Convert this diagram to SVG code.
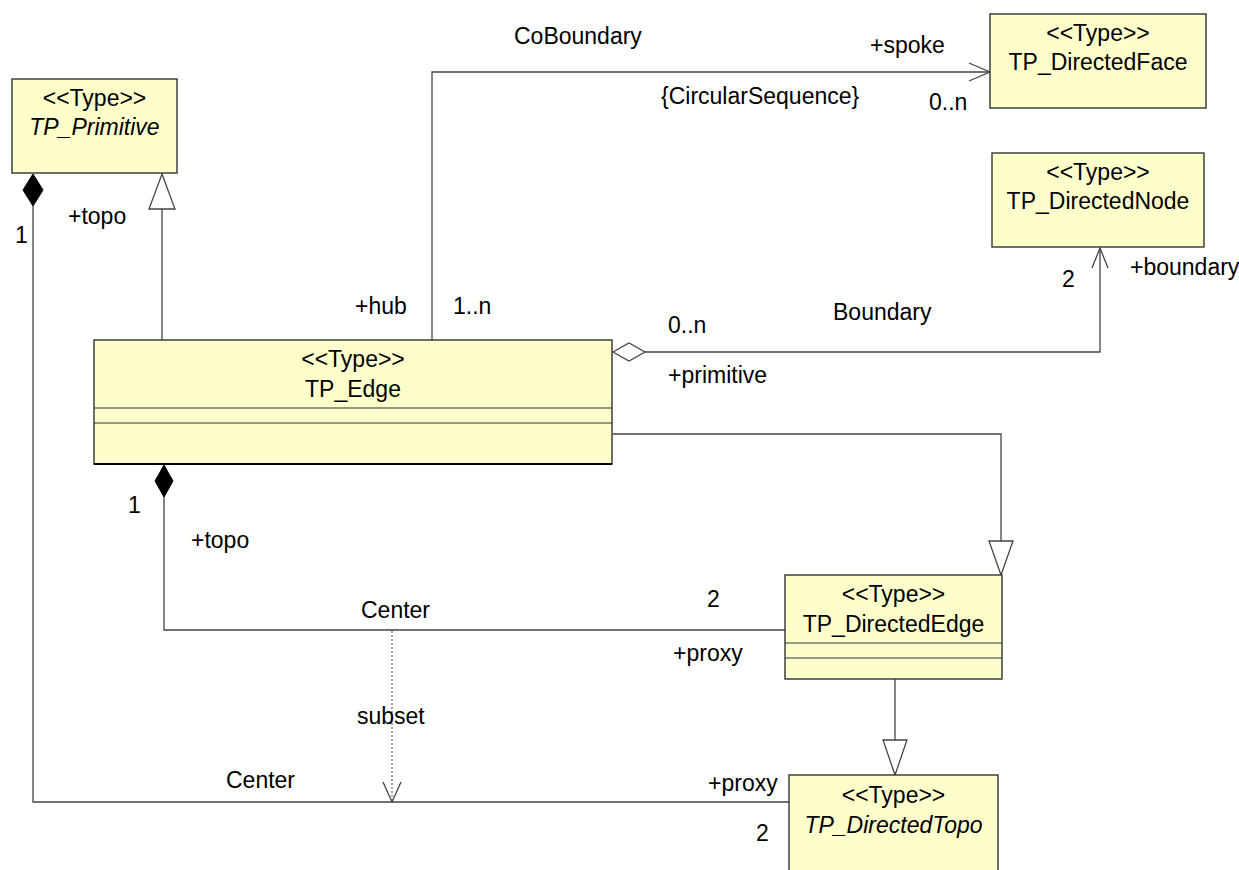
<svg xmlns="http://www.w3.org/2000/svg" width="1239" height="870" viewBox="0 0 1239 870">
<style>
.box{fill:#FFFFCC;stroke:#333;stroke-width:1.4}
.sep{stroke:#333;stroke-width:1.2}
.t{font-family:"Liberation Sans",Arial,sans-serif;font-size:23px;fill:#000}
.c{text-anchor:middle}
.i{font-style:italic}
.ln{fill:none;stroke:#444;stroke-width:1.3}
.dash{fill:none;stroke:#555;stroke-width:1.1;stroke-dasharray:2 2}
.tri{fill:#fff;stroke:#444;stroke-width:1.3}
.dia{fill:#000;stroke:#000;stroke-width:1}
.odia{fill:#fff;stroke:#444;stroke-width:1.3}
.arr{fill:none;stroke:#444;stroke-width:1.3}
</style>
<rect width="1239" height="870" fill="#fff"/>
<g id="connectors">
  <path class="ln" d="M33 206 V802 H789"/>
  <polygon class="dia" points="33,174 43,190 33,206 23,190"/>
  <path class="ln" d="M164 497 V630 H785"/>
  <polygon class="dia" points="164,465 173,481 164,497 155,481"/>
  <path class="dash" d="M392 631 V801"/>
  <polyline class="arr" points="383,782 392,802 401,782"/>
  <path class="ln" d="M162 340 V209"/>
  <polygon class="tri" points="162,174 175,209 149,209"/>
  <path class="ln" d="M613 434 H1001 V541"/>
  <polygon class="tri" points="1001,575 1013,541 989,541"/>
  <path class="ln" d="M895 679 V740"/>
  <polygon class="tri" points="895,775 907,740 883,740"/>
  <path class="ln" d="M432 340 V72 H989"/>
  <polyline class="arr" points="969,63 990,72 969,81"/>
  <path class="ln" d="M645 352 H1100 V248"/>
  <polygon class="odia" points="613,352 629,343 645,352 629,361"/>
  <polyline class="arr" points="1092,268 1100,248 1108,268"/>
</g>
<g id="labels">
  <text class="t" x="514" y="44">CoBoundary</text>
  <text class="t" x="870" y="53">+spoke</text>
  <text class="t" x="661" y="104">{CircularSequence}</text>
  <text class="t" x="929" y="110">0..n</text>
  <text class="t" x="355" y="314">+hub</text>
  <text class="t" x="453" y="314">1..n</text>
  <text class="t" x="668" y="333">0..n</text>
  <text class="t" x="833" y="320">Boundary</text>
  <text class="t" x="668" y="383">+primitive</text>
  <text class="t" x="1062" y="287">2</text>
  <text class="t" x="1130" y="275">+boundary</text>
  <text class="t" x="68" y="224">+topo</text>
  <text class="t" x="15" y="243">1</text>
  <text class="t" x="128" y="513">1</text>
  <text class="t" x="191" y="548">+topo</text>
  <text class="t" x="361" y="618">Center</text>
  <text class="t" x="707" y="607">2</text>
  <text class="t" x="673" y="661">+proxy</text>
  <text class="t" x="357" y="724">subset</text>
  <text class="t" x="226" y="788">Center</text>
  <text class="t" x="708" y="791">+proxy</text>
  <text class="t" x="756" y="841">2</text>
</g>
<g id="TP_Primitive">
  <rect class="box" x="12" y="79" width="165" height="94"/>
  <text class="t c" x="94.5" y="106">&lt;&lt;Type&gt;&gt;</text>
  <text class="t c i" x="94.5" y="135">TP_Primitive</text>
</g>
<g id="TP_DirectedFace">
  <rect class="box" x="990" y="14" width="216" height="94"/>
  <text class="t c" x="1098" y="41">&lt;&lt;Type&gt;&gt;</text>
  <text class="t c" x="1098" y="70">TP_DirectedFace</text>
</g>
<g id="TP_DirectedNode">
  <rect class="box" x="992" y="153" width="212" height="94"/>
  <text class="t c" x="1098" y="180">&lt;&lt;Type&gt;&gt;</text>
  <text class="t c" x="1098" y="209">TP_DirectedNode</text>
</g>
<g id="TP_Edge">
  <rect class="box" x="94" y="340" width="518" height="124"/>
  <line class="sep" x1="94" y1="408" x2="612" y2="408"/>
  <line class="sep" x1="94" y1="423" x2="612" y2="423"/>
  <line stroke="#000" stroke-width="2" x1="94" y1="464" x2="612" y2="464"/>
  <text class="t c" x="353" y="367">&lt;&lt;Type&gt;&gt;</text>
  <text class="t c" x="353" y="397">TP_Edge</text>
</g>
<g id="TP_DirectedEdge">
  <rect class="box" x="785" y="575" width="217" height="104"/>
  <line class="sep" x1="785" y1="643" x2="1002" y2="643"/>
  <line class="sep" x1="785" y1="658" x2="1002" y2="658"/>
  <text class="t c" x="893.5" y="602">&lt;&lt;Type&gt;&gt;</text>
  <text class="t c" x="893.5" y="632">TP_DirectedEdge</text>
</g>
<g id="TP_DirectedTopo">
  <rect class="box" x="789" y="775" width="209" height="100"/>
  <text class="t c" x="893.5" y="803">&lt;&lt;Type&gt;&gt;</text>
  <text class="t c i" x="893.5" y="833">TP_DirectedTopo</text>
</g>
</svg>
